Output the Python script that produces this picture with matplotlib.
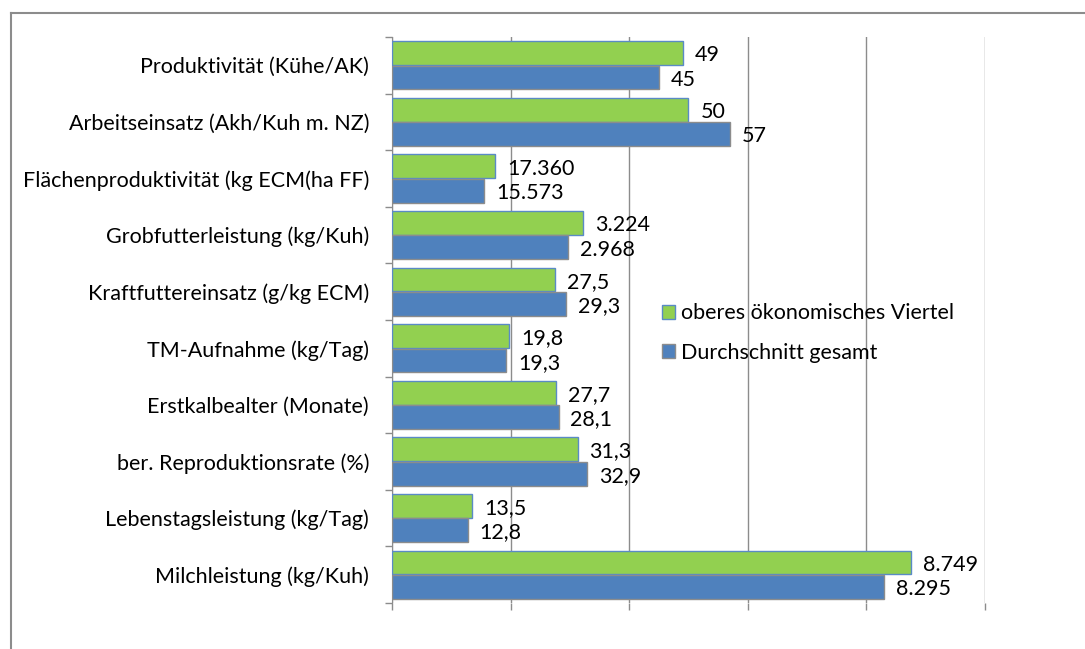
import numpy
import matplotlib
matplotlib.use("Agg")
import matplotlib.pyplot as plt

# --------------------------------------------------------------------
# data (top to bottom as in the chart)
categories = [
	"Produktivität (Kühe/AK)",
	"Arbeitseinsatz (Akh/Kuh m. NZ)",
	"Flächenproduktivität (kg ECM(ha FF)",
	"Grobfutterleistung (kg/Kuh)",
	"Kraftfuttereinsatz (g/kg ECM)",
	"TM-Aufnahme (kg/Tag)",
	"Erstkalbealter (Monate)",
	"ber. Reproduktionsrate (%)",
	"Lebenstagsleistung (kg/Tag)",
	"Milchleistung (kg/Kuh)",
]
oberes	= [49, 50, 17360, 3224, 27.5, 19.8, 27.7, 31.3, 13.5, 8749]
gesamt	= [45, 57, 15573, 2968, 29.3, 19.3, 28.1, 32.9, 12.8, 8295]
# each row is drawn on its own scale (value / divisor)
divisor	= [1, 1, 1000, 100, 1, 1, 1, 1, 1, 100]

green	= "#92D050"
blue	= "#4F81BD"

plt.rcParams["font.family"] = ["Lato", "DejaVu Sans"]

# german number format: 8.749 / 27,5
def fmt(v):
	if float(v).is_integer():
		return "{:,}".format(int(v)).replace(",", ".")
	return str(v).replace(".", ",")

fig = plt.figure(figsize=(10.85, 6.49), dpi=100)
ax = fig.add_axes([0.3613, 0.0709, 0.5465, 0.8721])

n = len(categories)
y = numpy.arange(n)[::-1]
h = 0.42
off = 0.215
v_o = numpy.array(oberes) / numpy.array(divisor)
v_g = numpy.array(gesamt) / numpy.array(divisor)

ax.barh(y + off, v_o, height=h, color=green, edgecolor="#5A8AC6", linewidth=1.0,
		label="oberes ökonomisches Viertel", zorder=3)
ax.barh(y - off, v_g, height=h, color=blue, edgecolor="#8C8C8C", linewidth=1.0,
		label="Durchschnitt gesamt", zorder=3)

for yy, v, t in zip(y + off, v_o, oberes):
	ax.text(v + 2.0, yy - 0.04, fmt(t), va="center", ha="left", fontsize=15.5, color="black")
for yy, v, t in zip(y - off, v_g, gesamt):
	ax.text(v + 2.0, yy - 0.04, fmt(t), va="center", ha="left", fontsize=15.5, color="black")

ax.set_xlim(0, 100)
ax.set_ylim(-0.5, n - 0.5)
ax.set_xticks([0, 20, 40, 60, 80, 100])
ax.set_xticklabels([])
ax.xaxis.grid(True, color="#8C8C8C", linewidth=1.0, zorder=0)
ax.set_yticks(y)
ax.set_yticklabels(categories, fontsize=15.5)
ax.set_yticks(numpy.arange(n + 1) - 0.5, minor=True)
ax.tick_params(axis="y", which="major", length=0, pad=16.5)
ax.tick_params(axis="y", which="minor", length=5, color="#8C8C8C", width=1.0)
ax.tick_params(axis="x", length=5, color="#8C8C8C", width=1.0)
for s in ["top", "right", "bottom"]:
	ax.spines[s].set_visible(False)
ax.spines["left"].set_color("#8C8C8C")

ax.legend(loc="center left", bbox_to_anchor=(0.455, 0.477), frameon=False, fontsize=15.5,
		borderpad=0, borderaxespad=0,
		handlelength=0.6, handleheight=0.6, handletextpad=0.3, labelspacing=0.9)

# outer chart border (cropped at right / bottom)
fig.add_artist(plt.Line2D([0.0101, 1.0], [0.98, 0.98], color="#8C8C8C", linewidth=1.5))
fig.add_artist(plt.Line2D([0.0101, 0.0101], [0.0, 0.98], color="#8C8C8C", linewidth=1.5))

plt.savefig("out.png", dpi=100)
